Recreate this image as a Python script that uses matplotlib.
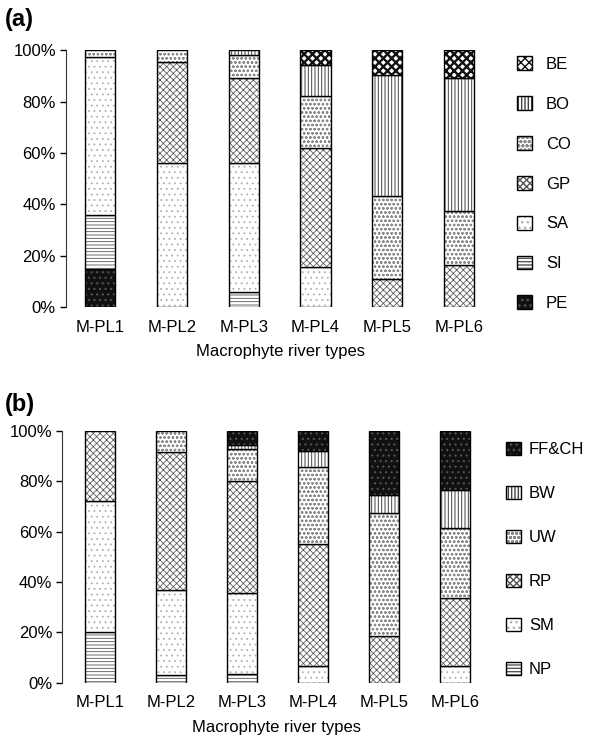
import matplotlib
matplotlib.use('Agg')
import matplotlib.pyplot as plt
from matplotlib.patches import Patch
from matplotlib.legend_handler import HandlerTuple
import numpy as np

plt.rcParams['font.family'] = ['Liberation Sans', 'DejaVu Sans']

river_types = ['M-PL1', 'M-PL2', 'M-PL3', 'M-PL4', 'M-PL5', 'M-PL6']

# (a) substrate composition (%), bottom -> top
a_labels = ['PE', 'SI', 'SA', 'GP', 'CO', 'BO', 'BE']
a_pe = [15.0, 0, 0, 0, 0, 0]
a_si = [21.0, 0, 6.0, 0, 0, 0]
a_sa = [61.4, 56.3, 50.0, 15.7, 0, 0]
a_gp = [0, 39.0, 33.2, 46.3, 11.0, 16.3]
a_co = [2.6, 4.7, 8.8, 20.2, 32.2, 21.2]
a_bo = [0, 0, 2.0, 12.0, 47.0, 51.6]
a_be = [0, 0, 0, 5.8, 9.8, 10.9]

# (b) flow types (%), bottom -> top
b_labels = ['NP', 'SM', 'RP', 'UW', 'BW', 'FF&CH']
b_np = [20.0, 2.9, 3.6, 0, 0, 0]
b_sm = [52.3, 33.9, 32.2, 6.6, 0, 6.6]
b_rp = [27.7, 55.0, 44.3, 48.5, 18.5, 26.9]
b_uw = [0, 8.2, 12.6, 30.7, 48.8, 28.1]
b_bw = [0, 0, 1.7, 6.1, 7.1, 15.0]
b_ff = [0, 0, 5.6, 8.1, 25.6, 23.4]

# fill styles: (facecolor, hatch, hatch colour, hatch linewidth)
STYLE = {
    'dark':  ('#111111', '...', '#555555', 0.8),
    'hline': ('white', '-----', '#555555', 0.6),
    'dots':  ('white', '...', '#b0b0b0', 0.6),
    'cross': ('white', 'xxxxx', '#555555', 0.55),
    'small': ('white', 'oooo', '#8a8a8a', 0.6),
    'vline': ('white', '|||||', '#444444', 0.7),
    'check': ('white', 'xxxx', '#111111', 1.7),
}
a_styles = ['dark', 'hline', 'dots', 'cross', 'small', 'vline', 'check']
b_styles = ['hline', 'dots', 'cross', 'small', 'vline', 'dark']


def draw_panel(ax, series, labels, styles, leg_anchor, leg_spacing, text_pad):
    x = np.arange(len(river_types))
    bottom = np.zeros(len(river_types))
    handles = []
    for vals, lab, st in zip(series, labels, styles):
        fc, hatch, hc, hlw = STYLE[st]
        vals = np.asarray(vals, dtype=float)
        mask = vals > 0
        with plt.rc_context({'hatch.linewidth': hlw}):
            ax.bar(x[mask], vals[mask], 0.42, bottom=bottom[mask],
                   facecolor=fc, hatch=hatch, edgecolor=hc, linewidth=0)
            h1 = Patch(facecolor=fc, hatch=hatch, edgecolor=hc, linewidth=0)
        ax.bar(x[mask], vals[mask], 0.42, bottom=bottom[mask],
               fill=False, edgecolor='black', linewidth=1.0)
        h2 = Patch(fill=False, edgecolor='black', linewidth=1.0)
        handles.append((h1, h2))
        bottom += vals

    ax.set_xlim(-0.5, 5.5)
    ax.set_ylim(0, 100)
    ax.set_yticks(range(0, 101, 20))
    ax.set_yticklabels([f'{v}%' for v in range(0, 101, 20)], fontsize=12)
    ax.set_xticks(x)
    ax.set_xticklabels(river_types, fontsize=12)
    ax.tick_params(axis='x', length=0, pad=9)
    ax.tick_params(axis='y', length=4, width=1, direction='out', pad=3)
    for s in ['top', 'right', 'bottom']:
        ax.spines[s].set_visible(False)
    ax.spines['left'].set_color('#333333')
    ax.set_xlabel('Macrophyte river types', fontsize=12, labelpad=7)

    ax.legend(handles[::-1], labels[::-1],
              handler_map={tuple: HandlerTuple(ndivide=1, pad=0)},
              loc='upper left', bbox_to_anchor=leg_anchor,
              bbox_transform=ax.figure.transFigure,
              frameon=False, fontsize=12, handlelength=0.9, handleheight=0.9,
              handletextpad=text_pad, labelspacing=leg_spacing, borderpad=0)


fig = plt.figure(figsize=(5.92, 7.40), dpi=100)

ax_a = fig.add_axes([0.111, 0.585, 0.725, 0.347])
draw_panel(ax_a, [a_pe, a_si, a_sa, a_gp, a_co, a_bo, a_be],
           a_labels, a_styles, (0.860, 0.935), 1.45, 0.8)
ax_a.set_xlim(-0.48, 5.5)

ax_b = fig.add_axes([0.105, 0.0774, 0.724, 0.3402])
draw_panel(ax_b, [b_np, b_sm, b_rp, b_uw, b_bw, b_ff],
           b_labels, b_styles, (0.840, 0.4145), 1.7, 0.5)
ax_b.set_xlim(-0.535, 5.5)

fig.text(0.008, 0.973, '(a)', fontsize=17, fontweight='bold', va='center')
fig.text(0.008, 0.453, '(b)', fontsize=17, fontweight='bold', va='center')

fig.savefig('out.png', dpi=100)
